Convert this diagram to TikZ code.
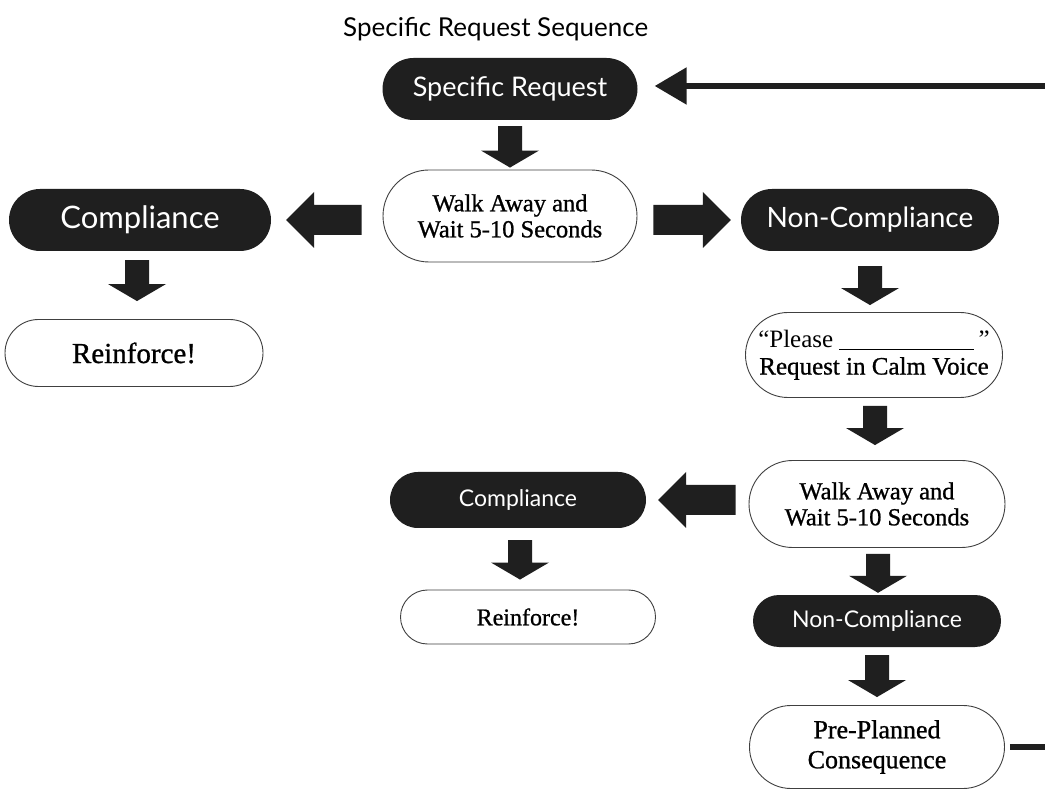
\documentclass[tikz,border=0pt]{standalone}
\usepackage{fontspec}
\setmainfont{Liberation Serif}[BoldFont=Liberation Serif, BoldFeatures={FakeBold=0.9}]
\newfontfamily\pillsans{Lato}
\usetikzlibrary{shapes.misc,calc,arrows.meta}
\tikzset{
  darkpill/.style={rounded rectangle, fill=black!88, text=white, inner sep=0pt},
  lightpill/.style={rounded rectangle, draw=black!75, line width=0.9pt, fill=white, align=center, inner sep=0pt},
  arrowfill/.style={fill=black!88},
  fbline/.style={line width=5.5pt, draw=black!88, -{Triangle[length=32pt 0 0, width=36pt 0 0]}},
}
\newcommand\bigarrow[5]{%
  \coordinate (ba-h) at ($(#2)!#5!(#1)$);
  \fill[arrowfill] ($(#1)!#3!90:(#2)$) -- ($(ba-h)!#3!90:(#2)$) -- ($(ba-h)!#4!90:(#2)$) -- (#2)
    -- ($(ba-h)!#4!-90:(#2)$) -- ($(ba-h)!#3!-90:(#2)$) -- ($(#1)!#3!-90:(#2)$) -- cycle;}
\newcommand\downblock[2]{\bigarrow{#1}{#2}{12pt}{29pt}{17pt}}
\newcommand\sideblock[2]{\bigarrow{#1}{#2}{15pt}{28pt}{28pt}}
\begin{document}
\begin{tikzpicture}[x=1pt,y=-1pt]
\useasboundingbox (0,0) rectangle (1045,791);
\clip (0,0) rectangle (1045,791);
\fill[white] (0,0) rectangle (1045,791);

% title
\node[font=\pillsans\fontsize{26}{30}\selectfont, anchor=base west, inner sep=0pt] (title) at (343,37) {Specific Request Sequence};

% nodes
\node[darkpill, minimum width=255pt, minimum height=62pt, font=\pillsans\fontsize{27}{30}\selectfont] (sr) at (510,89) {Specific Request};
\node[lightpill, minimum width=254pt, minimum height=92pt, font=\bfseries\fontsize{24.5}{26}\selectfont] (wa1) at (510,216) {Walk Away and\\Wait 5-10 Seconds};
\node[darkpill, minimum width=262pt, minimum height=62pt, font=\pillsans\fontsize{31}{34}\selectfont] (c1) at (140,220) {Compliance};
\node[lightpill, minimum width=258pt, minimum height=67pt, font=\bfseries\fontsize{29}{32}\selectfont] (r1) at (134,353) {Reinforce!};
\node[darkpill, minimum width=258pt, minimum height=62pt, font=\pillsans\fontsize{28}{31}\selectfont] (nc1) at (870,220) {Non-Compliance};
\node[lightpill, minimum width=257pt, minimum height=85pt, font=\bfseries\fontsize{25}{27}\selectfont] (pl) at (874,355) {\mdseries``Please \rule[-2pt]{135pt}{0.8pt}\,''\\Request in Calm Voice};
\node[lightpill, minimum width=256pt, minimum height=87pt, font=\bfseries\fontsize{24.5}{26}\selectfont] (wa2) at (877,504) {Walk Away and\\Wait 5-10 Seconds};
\node[darkpill, minimum width=256pt, minimum height=56pt, font=\pillsans\fontsize{23}{26}\selectfont] (c2) at (518,500) {Compliance};
\node[lightpill, minimum width=255pt, minimum height=54pt, font=\bfseries\fontsize{24}{27}\selectfont] (r2) at (528,617) {Reinforce!};
\node[darkpill, minimum width=248pt, minimum height=52pt, font=\pillsans\fontsize{23}{26}\selectfont] (nc2) at (877,621) {Non-Compliance};
\node[lightpill, minimum width=255pt, minimum height=83pt, font=\bfseries\fontsize{26}{30}\selectfont] (cons) at (877,747) {Pre-Planned\\Consequence};

% block arrows
\coordinate (a1s) at ($(sr.south)+(0,6)$);
\coordinate (a1e) at ($(wa1.north)+(0,-2)$);
\downblock{a1s}{a1e}
\coordinate (a2s) at ($(wa1.west)+(-21,4)$);
\coordinate (a2e) at ($(c1.east)+(15,0)$);
\sideblock{a2s}{a2e}
\coordinate (a3s) at ($(wa1.east)+(16,4)$);
\coordinate (a3e) at ($(nc1.west)+(-10,0)$);
\sideblock{a3s}{a3e}
\coordinate (a4s) at ($(c1.south)+(-3,9)$);
\coordinate (a4e) at ($(r1.north)+(3,-18)$);
\downblock{a4s}{a4e}
\coordinate (a5s) at ($(nc1.south)+(0,15)$);
\coordinate (a5e) at ($(pl.north)+(-4,-7)$);
\downblock{a5s}{a5e}
\coordinate (a6s) at ($(pl.south)+(1,8)$);
\coordinate (a6e) at ($(wa2.north)+(-2,-15)$);
\downblock{a6s}{a6e}
\coordinate (a7s) at ($(wa2.west)+(-13,-4)$);
\coordinate (a7e) at ($(c2.east)+(12,0)$);
\sideblock{a7s}{a7e}
\coordinate (a8s) at ($(c2.south)+(2,12)$);
\coordinate (a8e) at ($(r2.north)+(-8,-10)$);
\downblock{a8s}{a8e}
\coordinate (a9s) at ($(wa2.south)+(1,6)$);
\coordinate (a9e) at ($(nc2.north)+(1,-2)$);
\downblock{a9s}{a9e}
\coordinate (a10s) at ($(nc2.south)+(0,8)$);
\coordinate (a10e) at ($(cons.north)+(0,-8)$);
\downblock{a10s}{a10e}

% feedback connector
\coordinate (fbR) at (1052,86);
\draw[fbline] ($(cons.east)+(5,0)$) -| (fbR) -- ($(sr.east |- fbR)+(17,0)$);
\end{tikzpicture}
\end{document}
